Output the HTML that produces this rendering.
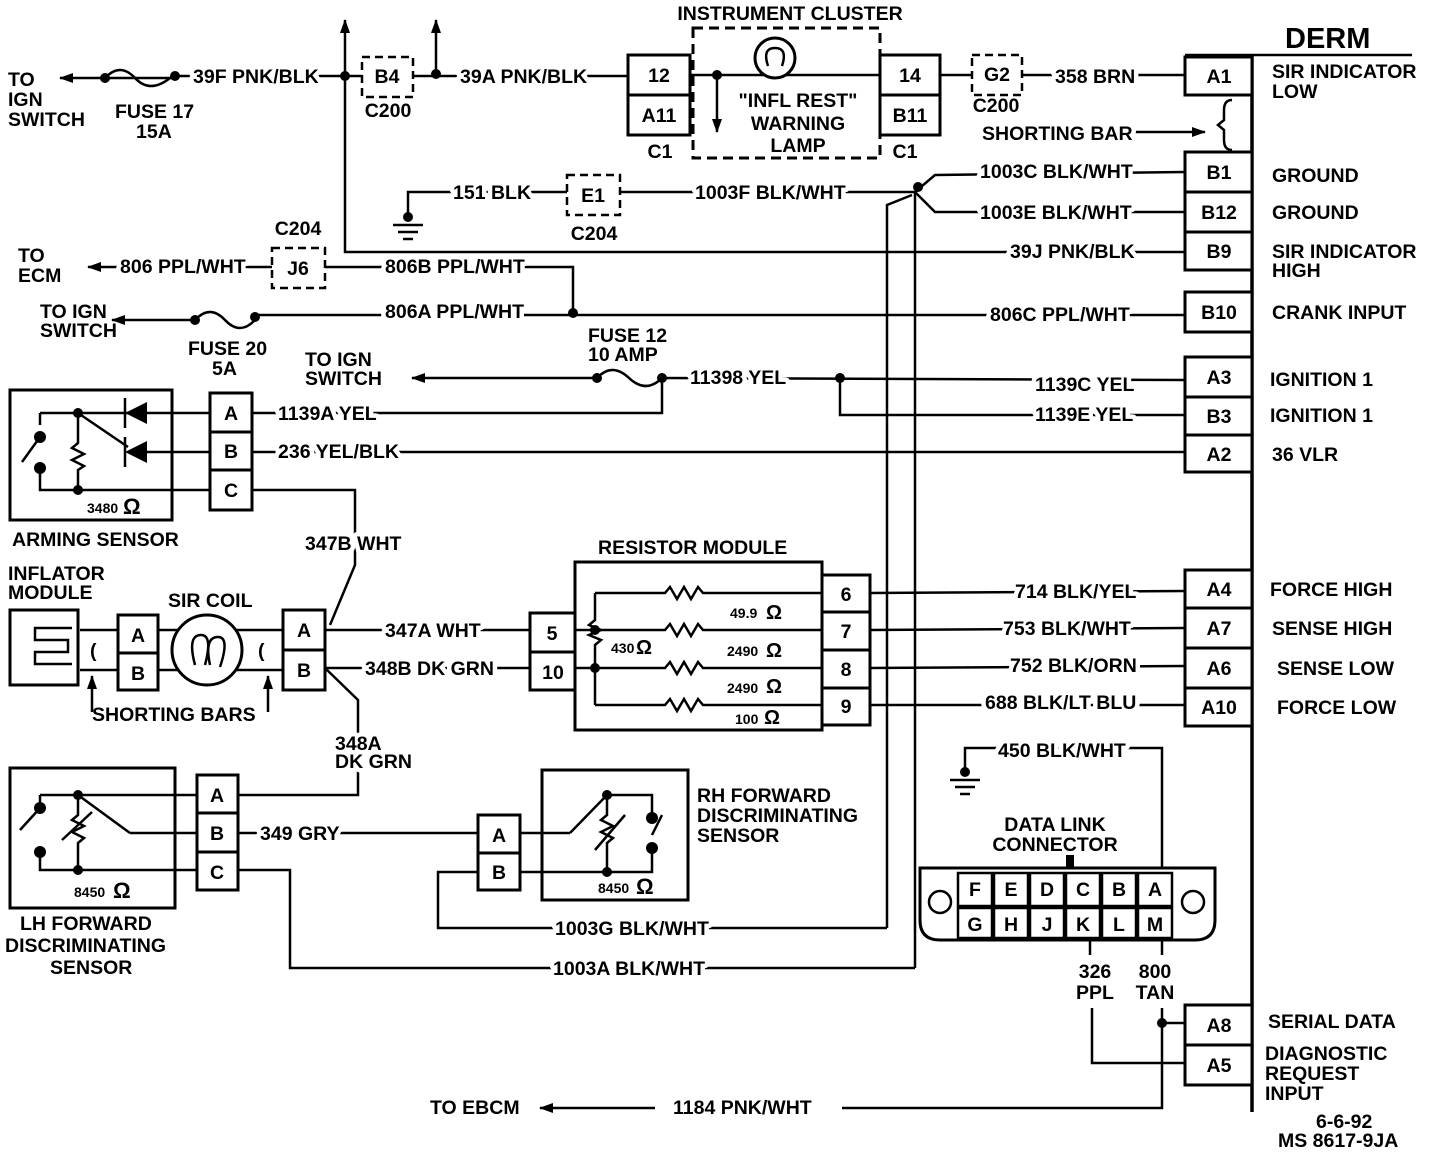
<!DOCTYPE html>
<html><head><meta charset="utf-8"><style>
html,body{margin:0;padding:0;background:#fff;}
svg{display:block;}
text{font-family:"Liberation Sans",sans-serif;font-weight:bold;font-size:19.5px;fill:#000;}
.h{stroke:#fff;stroke-width:9px;paint-order:stroke;stroke-linejoin:round;}
.w{stroke:#000;stroke-width:2.5;fill:none;}
.b{stroke:#000;stroke-width:3;fill:#fff;}
.d{stroke:#000;stroke-width:2.5;fill:#fff;stroke-dasharray:8 5;}
.c{text-anchor:middle;}
</style></head><body>
<svg width="1440" height="1154" viewBox="0 0 1440 1154" xmlns="http://www.w3.org/2000/svg">
<defs><marker id="ar" markerWidth="14" markerHeight="10" refX="13" refY="5" orient="auto" markerUnits="userSpaceOnUse"><path d="M0,0 L14,5 L0,10 Z" fill="#000"/></marker></defs>

<text x="1285" y="48" style="font-size:29px">DERM</text>
<line class="w" x1="1185" y1="55" x2="1412" y2="55"/>
<line class="w" x1="1252" y1="55" x2="1252" y2="1112" style="stroke-width:3.5"/>

<g class="w">
<line x1="175" y1="78" x2="60" y2="78" marker-end="url(#ar)"/>
<line x1="175" y1="76" x2="628" y2="76"/>
<line x1="345" y1="76" x2="345" y2="20" marker-end="url(#ar)"/>
<line x1="436" y1="74" x2="436" y2="20" marker-end="url(#ar)"/>
<polyline points="345,76 345,252 1185,252"/>
<line x1="690" y1="75" x2="880" y2="75"/>
<line x1="717" y1="75" x2="717" y2="132" marker-end="url(#ar)"/>
<line x1="940" y1="75" x2="1185" y2="75"/>
<line x1="1120" y1="132" x2="1205" y2="132" marker-end="url(#ar)"/>
<polyline points="408,215 408,192 915,192 935,175 1185,172"/>
<polyline points="915,192 935,212 1185,212"/>
<polyline points="912,195 887,205 887,928"/>
<line x1="915" y1="192" x2="915" y2="968"/>
<line x1="272" y1="267" x2="88" y2="267" marker-end="url(#ar)"/>
<polyline points="325,267 573,267 573,315"/>
<line x1="192" y1="320" x2="112" y2="320" marker-end="url(#ar)"/>
<line x1="255" y1="315" x2="1185" y2="315"/>
<line x1="597" y1="378" x2="412" y2="378" marker-end="url(#ar)"/>
<line x1="662" y1="378" x2="1185" y2="380"/>
<polyline points="840,378 840,415 1185,415"/>
<polyline points="662,378 662,413 252,413"/>
<line x1="252" y1="452" x2="1185" y2="452"/>
<polyline points="252,490 355,490 355,565 330,625"/>
<line x1="325" y1="630" x2="530" y2="630"/>
<line x1="325" y1="668" x2="530" y2="668"/>
<polyline points="325,668 358,700 358,795 238,795"/>
<line x1="870" y1="593" x2="1185" y2="591"/>
<line x1="870" y1="630" x2="1185" y2="628"/>
<line x1="870" y1="668" x2="1185" y2="666"/>
<line x1="870" y1="705" x2="1185" y2="705"/>
<line x1="238" y1="833" x2="478" y2="833"/>
<polyline points="238,870 290,870 290,968 915,968"/>
<polyline points="478,872 438,872 438,928 887,928"/>
<polyline points="965,770 965,748 1162,748 1162,875"/>
<line x1="1090" y1="940" x2="1090" y2="955"/>
<line x1="1162" y1="940" x2="1162" y2="955"/>
<polyline points="1092,1008 1092,1063 1185,1063"/>
<polyline points="1162,1008 1162,1108 842,1108"/>
<line x1="655" y1="1108" x2="540" y2="1108" marker-end="url(#ar)"/>
<line x1="1162" y1="1023" x2="1185" y2="1023"/>
<line x1="92" y1="712" x2="92" y2="676" marker-end="url(#ar)"/>
<line x1="268" y1="712" x2="268" y2="676" marker-end="url(#ar)"/>
<line x1="80" y1="630" x2="118" y2="630"/><line x1="80" y1="670" x2="118" y2="670"/>
<line x1="158" y1="630" x2="283" y2="630"/><line x1="158" y1="670" x2="283" y2="670"/>
</g>

<g class="w"><line x1="393" y1="225" x2="423" y2="225"/><line x1="398" y1="232" x2="418" y2="232"/><line x1="403" y1="239" x2="413" y2="239"/>
<line x1="950" y1="780" x2="980" y2="780"/><line x1="955" y1="787" x2="975" y2="787"/><line x1="960" y1="794" x2="970" y2="794"/></g>
<circle cx="408" cy="217" r="5"/><circle cx="965" cy="772" r="5"/>

<g class="w"><path d="M105,78 q15,-16 30,0 t35,0"/><path d="M195,320 q15,-16 30,0 t30,0"/><path d="M597,378 q15,-16 32,0 t33,0"/></g>
<circle cx="105" cy="78" r="5"/><circle cx="175" cy="76" r="5"/><circle cx="195" cy="320" r="5"/><circle cx="255" cy="317" r="5"/><circle cx="597" cy="378" r="5"/><circle cx="662" cy="378" r="5"/>
<circle cx="345" cy="76" r="5"/><circle cx="436" cy="74" r="5"/><circle cx="717" cy="75" r="5"/><circle cx="573" cy="313" r="5"/><circle cx="840" cy="378" r="5"/><circle cx="918" cy="187" r="5"/><circle cx="1162" cy="1023" r="5"/>

<rect class="d" x="362" y="57" width="51" height="40"/><text x="387" y="83" class="c">B4</text>
<text x="388" y="117" class="c">C200</text>
<rect class="b" x="628" y="55" width="62" height="40"/><rect class="b" x="628" y="95" width="62" height="40"/>
<text x="659" y="82" class="c">12</text><text x="659" y="122" class="c">A11</text><text x="660" y="158" class="c">C1</text>
<rect x="693" y="28" width="187" height="130" fill="none" stroke="#000" stroke-width="3" stroke-dasharray="10 6"/>
<text x="790" y="20" class="c">INSTRUMENT CLUSTER</text>
<circle class="b" cx="775" cy="58" r="20"/><path class="w" d="M768,66 q-6,-18 7,-18 q13,0 7,18"/>
<text x="798" y="107" class="c">"INFL REST"</text><text x="798" y="130" class="c">WARNING</text><text x="798" y="152" class="c">LAMP</text>
<rect class="b" x="880" y="55" width="60" height="40"/><rect class="b" x="880" y="95" width="60" height="40"/>
<text x="910" y="82" class="c">14</text><text x="910" y="122" class="c">B11</text><text x="905" y="158" class="c">C1</text>
<rect class="d" x="972" y="55" width="50" height="40"/><text x="997" y="81" class="c">G2</text><text x="996" y="112" class="c">C200</text>
<rect class="d" x="567" y="175" width="53" height="40"/><text x="593" y="202" class="c">E1</text><text x="594" y="240" class="c">C204</text>
<rect class="d" x="272" y="248" width="53" height="40"/><text x="298" y="275" class="c">J6</text><text x="298" y="235" class="c">C204</text>
<path class="w" d="M1232,100 q-8,0 -8,10 v10 l-6,5 l6,5 v10 q0,10 8,10"/>

<g class="b">
<rect x="1185" y="57" width="67" height="38"/>
<rect x="1185" y="152" width="67" height="40"/><rect x="1185" y="192" width="67" height="40"/><rect x="1185" y="232" width="67" height="38"/>
<rect x="1185" y="292" width="67" height="40"/>
<rect x="1185" y="357" width="67" height="40"/><rect x="1185" y="397" width="67" height="38"/><rect x="1185" y="435" width="67" height="37"/>
<rect x="1185" y="570" width="67" height="38"/><rect x="1185" y="608" width="67" height="40"/><rect x="1185" y="648" width="67" height="40"/><rect x="1185" y="688" width="67" height="38"/>
<rect x="1185" y="1005" width="67" height="40"/><rect x="1185" y="1045" width="67" height="40"/>
</g>
<g class="c">
<text x="1219" y="83">A1</text><text x="1219" y="179">B1</text><text x="1219" y="219">B12</text><text x="1219" y="258">B9</text>
<text x="1219" y="319">B10</text><text x="1219" y="384">A3</text><text x="1219" y="423">B3</text><text x="1219" y="461">A2</text>
<text x="1219" y="596">A4</text><text x="1219" y="635">A7</text><text x="1219" y="675">A6</text><text x="1219" y="714">A10</text>
<text x="1219" y="1032">A8</text><text x="1219" y="1072">A5</text>
</g>
<text x="1272" y="78">SIR INDICATOR</text><text x="1272" y="98">LOW</text>
<text x="1272" y="182">GROUND</text><text x="1272" y="219">GROUND</text>
<text x="1272" y="258">SIR INDICATOR</text><text x="1272" y="277">HIGH</text>
<text x="1272" y="319">CRANK INPUT</text><text x="1270" y="386">IGNITION 1</text><text x="1270" y="422">IGNITION 1</text><text x="1272" y="461">36 VLR</text>
<text x="1270" y="596">FORCE HIGH</text><text x="1272" y="635">SENSE HIGH</text><text x="1277" y="675">SENSE LOW</text><text x="1277" y="714">FORCE LOW</text>
<text x="1268" y="1028">SERIAL DATA</text><text x="1265" y="1060">DIAGNOSTIC</text><text x="1265" y="1080">REQUEST</text><text x="1265" y="1100">INPUT</text>
<text x="1316" y="1128">6-6-92</text><text x="1278" y="1147">MS 8617-9JA</text>

<g class="h">
<text x="193" y="83">39F PNK/BLK</text><text x="460" y="83">39A PNK/BLK</text><text x="1055" y="83">358 BRN</text>
<text x="982" y="140">SHORTING BAR</text>
<text x="453" y="199">151 BLK</text><text x="695" y="199">1003F BLK/WHT</text>
<text x="980" y="178">1003C BLK/WHT</text><text x="980" y="219">1003E BLK/WHT</text>
<text x="1010" y="258">39J PNK/BLK</text>
<text x="120" y="273">806 PPL/WHT</text><text x="385" y="273">806B PPL/WHT</text>
<text x="385" y="318">806A PPL/WHT</text><text x="990" y="321">806C PPL/WHT</text>
<text x="690" y="384">11398 YEL</text><text x="1035" y="391">1139C YEL</text><text x="1035" y="421">1139E YEL</text>
<text x="278" y="420">1139A YEL</text><text x="278" y="458">236 YEL/BLK</text>
<text x="385" y="637">347A WHT</text><text x="365" y="675">348B DK GRN</text>
<text x="1015" y="598">714 BLK/YEL</text><text x="1003" y="635">753 BLK/WHT</text><text x="1010" y="672">752 BLK/ORN</text><text x="985" y="709">688 BLK/LT BLU</text>
<text x="260" y="840">349 GRY</text>
<text x="555" y="935">1003G BLK/WHT</text><text x="553" y="975">1003A BLK/WHT</text>
<text x="998" y="757">450 BLK/WHT</text>
<text x="673" y="1114">1184 PNK/WHT</text>
<text x="305" y="550">347B WHT</text>
<text x="335" y="750">348A</text><text x="335" y="768">DK GRN</text>
</g>
<text x="8" y="86">TO</text><text x="8" y="106">IGN</text><text x="8" y="126">SWITCH</text>
<text x="115" y="118">FUSE 17</text><text x="136" y="138">15A</text>
<text x="18" y="262">TO</text><text x="18" y="282">ECM</text>
<text x="40" y="318">TO IGN</text><text x="40" y="337">SWITCH</text>
<text x="188" y="355">FUSE 20</text><text x="212" y="375">5A</text>
<text x="305" y="366">TO IGN</text><text x="305" y="385">SWITCH</text>
<text x="588" y="342">FUSE 12</text><text x="588" y="361">10 AMP</text>
<text x="430" y="1114">TO EBCM</text>

<rect x="10" y="390" width="162" height="130" fill="none" stroke="#000" stroke-width="3"/>
<g class="w"><polyline points="40,413 40,425"/><polyline points="40,413 78,413"/>
<line x1="78" y1="413" x2="210" y2="413"/><line x1="128" y1="452" x2="210" y2="452"/>
<line x1="78" y1="413" x2="128" y2="447"/>
<polyline points="78,413 78,443 72,448 84,454 72,460 84,466 78,470 78,490"/>
<polyline points="40,468 40,490 210,490"/><line x1="22" y1="462" x2="40" y2="437"/>
<line x1="125" y1="398" x2="125" y2="428"/><line x1="125" y1="437" x2="125" y2="467"/></g>
<path d="M125,413 L147,402 L147,424 Z"/><path d="M125,452 L147,441 L147,463 Z"/>
<circle cx="78" cy="413" r="5"/><circle cx="40" cy="437" r="6"/><circle cx="40" cy="468" r="6"/><circle cx="78" cy="490" r="5"/>
<text x="87" y="513" style="font-size:14px">3480</text><text x="123" y="514" style="font-size:22px">Ω</text>
<rect class="b" x="210" y="393" width="42" height="39"/><rect class="b" x="210" y="432" width="42" height="38"/><rect class="b" x="210" y="470" width="42" height="40"/>
<text x="231" y="420" class="c">A</text><text x="231" y="458" class="c">B</text><text x="231" y="497" class="c">C</text>
<text x="12" y="546">ARMING SENSOR</text>

<text x="8" y="580">INFLATOR</text><text x="8" y="599">MODULE</text><text x="168" y="607">SIR COIL</text>
<rect x="10" y="610" width="68" height="75" fill="none" stroke="#000" stroke-width="3"/>
<path class="w" d="M72,628 H35 V640 H68 V652 H35 V664 H72"/>
<text x="90" y="657">(</text><text x="258" y="657">(</text>
<rect class="b" x="118" y="615" width="40" height="38"/><rect class="b" x="118" y="653" width="40" height="37"/>
<text x="138" y="642" class="c">A</text><text x="138" y="680" class="c">B</text>
<circle class="b" cx="207" cy="650" r="35"/><path class="w" d="M195,665 q-8,-30 6,-30 q12,0 4,30 M210,665 q-6,-28 8,-28 q12,0 2,30"/>
<rect class="b" x="283" y="610" width="42" height="40"/><rect class="b" x="283" y="650" width="42" height="40"/>
<text x="304" y="637" class="c">A</text><text x="304" y="677" class="c">B</text>
<text x="92" y="721">SHORTING BARS</text>

<text x="598" y="554">RESISTOR MODULE</text>
<rect x="575" y="562" width="247" height="168" fill="none" stroke="#000" stroke-width="3"/>
<rect class="b" x="530" y="613" width="45" height="39"/><rect class="b" x="530" y="652" width="45" height="38"/>
<text x="552" y="640" class="c">5</text><text x="553" y="679" class="c">10</text>
<g class="w">
<polyline points="575,630 595,630"/><polyline points="575,668 595,668"/>
<polyline points="595,593 595,620 589,625 601,630 589,635 601,640 595,645 595,705"/>
<polyline points="595,593 665,593 670,587 677,599 684,587 691,599 698,587 703,593 822,593"/>
<polyline points="595,630 665,630 670,624 677,636 684,624 691,636 698,624 703,630 822,630"/>
<polyline points="595,668 665,668 670,662 677,674 684,662 691,674 698,662 703,668 822,668"/>
<polyline points="595,705 665,705 670,699 677,711 684,699 691,711 698,699 703,705 822,705"/>
</g>
<circle cx="595" cy="630" r="5"/><circle cx="595" cy="668" r="5"/>
<text x="611" y="653" style="font-size:14px">430</text><text x="636" y="654" style="font-size:20px">Ω</text>
<text x="730" y="618" style="font-size:14px">49.9</text><text x="766" y="619" style="font-size:20px">Ω</text>
<text x="727" y="656" style="font-size:14px">2490</text><text x="766" y="657" style="font-size:20px">Ω</text>
<text x="727" y="693" style="font-size:14px">2490</text><text x="766" y="693" style="font-size:20px">Ω</text>
<text x="735" y="724" style="font-size:14px">100</text><text x="764" y="724" style="font-size:20px">Ω</text>
<rect class="b" x="822" y="575" width="48" height="37"/><rect class="b" x="822" y="612" width="48" height="38"/><rect class="b" x="822" y="650" width="48" height="38"/><rect class="b" x="822" y="688" width="48" height="37"/>
<text x="846" y="601" class="c">6</text><text x="846" y="638" class="c">7</text><text x="846" y="676" class="c">8</text><text x="846" y="713" class="c">9</text>

<rect x="10" y="768" width="165" height="140" fill="none" stroke="#000" stroke-width="3"/>
<g class="w"><polyline points="40,795 40,805"/><polyline points="40,795 78,795"/>
<polyline points="78,795 78,815 72,820 84,826 72,832 84,838 78,843 78,852"/><line x1="62" y1="840" x2="92" y2="812"/>
<line x1="78" y1="795" x2="130" y2="833"/><line x1="130" y1="833" x2="197" y2="833"/>
<polyline points="40,852 40,870 197,870"/><line x1="78" y1="852" x2="78" y2="870"/>
<line x1="20" y1="830" x2="40" y2="808"/>
<polyline points="78,795 197,795"/></g>
<circle cx="78" cy="795" r="5"/><circle cx="40" cy="808" r="6"/><circle cx="40" cy="852" r="6"/><circle cx="78" cy="870" r="5"/>
<text x="74" y="897" style="font-size:14px">8450</text><text x="113" y="898" style="font-size:22px">Ω</text>
<rect class="b" x="197" y="775" width="41" height="38"/><rect class="b" x="197" y="813" width="41" height="39"/><rect class="b" x="197" y="852" width="41" height="38"/>
<text x="217" y="802" class="c">A</text><text x="217" y="840" class="c">B</text><text x="217" y="879" class="c">C</text>
<text x="20" y="930">LH FORWARD</text><text x="5" y="952">DISCRIMINATING</text><text x="50" y="974">SENSOR</text>

<rect x="542" y="770" width="146" height="130" fill="none" stroke="#000" stroke-width="3"/>
<g class="w"><line x1="520" y1="833" x2="570" y2="833"/><line x1="570" y1="833" x2="607" y2="795"/>
<polyline points="607,795 607,815 601,820 613,826 601,832 613,838 607,843 607,872"/>
<line x1="595" y1="850" x2="625" y2="815"/>
<polyline points="607,795 652,795 652,818"/><polyline points="520,872 652,872 652,848"/><line x1="662" y1="815" x2="652" y2="835"/></g>
<circle cx="607" cy="795" r="5"/><circle cx="652" cy="818" r="6"/><circle cx="652" cy="848" r="6"/><circle cx="607" cy="872" r="5"/>
<text x="598" y="893" style="font-size:14px">8450</text><text x="636" y="894" style="font-size:22px">Ω</text>
<rect class="b" x="478" y="815" width="42" height="38"/><rect class="b" x="478" y="853" width="42" height="37"/>
<text x="499" y="842" class="c">A</text><text x="499" y="879" class="c">B</text>
<text x="697" y="802">RH FORWARD</text><text x="697" y="822">DISCRIMINATING</text><text x="697" y="842">SENSOR</text>

<text x="1055" y="831" class="c">DATA LINK</text><text x="1055" y="851" class="c">CONNECTOR</text>
<rect x="1066" y="855" width="8" height="12" fill="#000"/>
<path class="b" d="M920,868 H1215 V920 Q1215,940 1195,940 H940 Q920,940 920,920 Z"/>
<circle class="w" cx="940" cy="902" r="11" style="fill:#fff"/><circle class="w" cx="1193" cy="902" r="11" style="fill:#fff"/>
<g class="b" style="stroke-width:2.5">
<rect x="958" y="873" width="34" height="33"/><rect x="994" y="873" width="34" height="33"/><rect x="1030" y="873" width="34" height="33"/><rect x="1066" y="873" width="34" height="33"/><rect x="1102" y="873" width="34" height="33"/><rect x="1138" y="873" width="34" height="33"/>
<rect x="958" y="908" width="34" height="30"/><rect x="994" y="908" width="34" height="30"/><rect x="1030" y="908" width="34" height="30"/><rect x="1066" y="908" width="34" height="30"/><rect x="1102" y="908" width="34" height="30"/><rect x="1138" y="908" width="34" height="30"/>
</g>
<g class="c">
<text x="975" y="896">F</text><text x="1011" y="896">E</text><text x="1047" y="896">D</text><text x="1083" y="896">C</text><text x="1119" y="896">B</text><text x="1155" y="896">A</text>
<text x="975" y="931">G</text><text x="1011" y="931">H</text><text x="1047" y="931">J</text><text x="1083" y="931">K</text><text x="1119" y="931">L</text><text x="1155" y="931">M</text>
</g>
<text x="1095" y="978" class="c">326</text><text x="1095" y="999" class="c">PPL</text>
<text x="1155" y="978" class="c">800</text><text x="1155" y="999" class="c">TAN</text>
</svg>
</body></html>
